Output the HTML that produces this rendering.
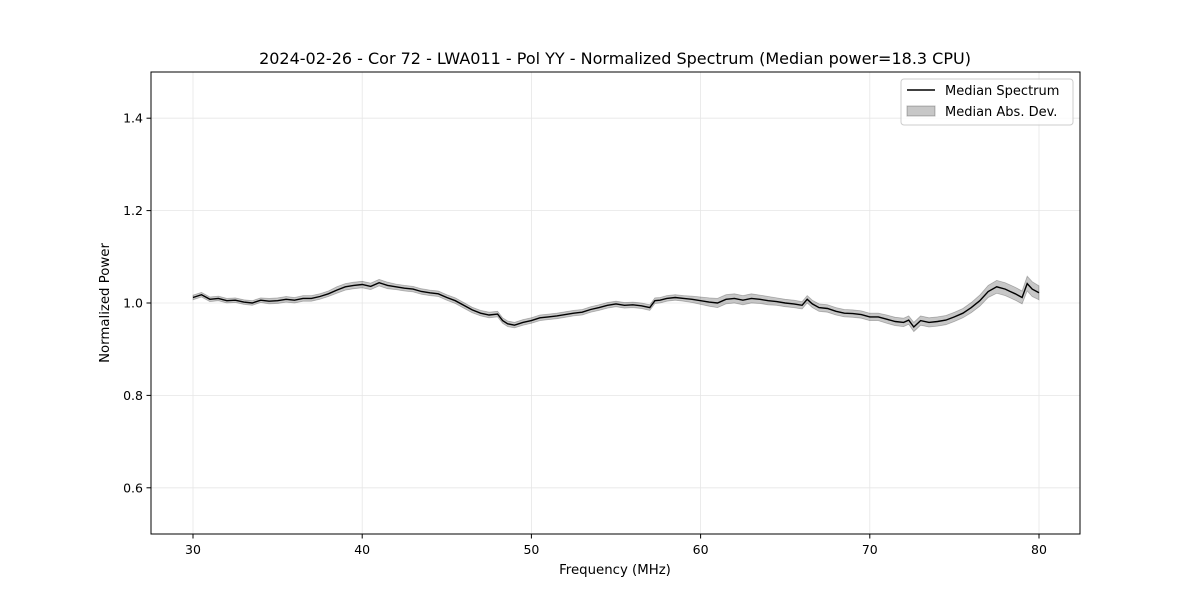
<!DOCTYPE html>
<html><head><meta charset="utf-8"><style>
html,body{margin:0;padding:0;background:#fff}
svg{display:block;font-family:"DejaVu Sans","Liberation Sans",sans-serif}
</style></head><body>
<svg id="chart" width="1200" height="600">
<text x="615" y="64" text-anchor="middle" font-size="16">2024-02-26 - Cor 72 - LWA011 - Pol YY - Normalized Spectrum (Median power=18.3 CPU)</text>
<g id="grid"></g>
<path id="band" fill="#000" fill-opacity="0.22" stroke="#000" stroke-opacity="0.25" stroke-width="0.8"/>
<path id="line" fill="none" stroke="#000" stroke-width="1.4"/>
<rect x="151" y="72" width="929" height="462" fill="none" stroke="#000" stroke-width="1"/>
<g id="ticks"></g>
<text x="615" y="574" text-anchor="middle" font-size="13.3">Frequency (MHz)</text>
<text transform="translate(109,303) rotate(-90)" text-anchor="middle" font-size="13.3">Normalized Power</text>
<g>
<rect x="901" y="79" width="172" height="46" rx="3" fill="#fff" fill-opacity="0.8" stroke="#ccc"/>
<line x1="907" y1="90" x2="935" y2="90" stroke="#000" stroke-width="1.5"/>
<text x="945" y="95" font-size="13">Median Spectrum</text>
<rect x="907" y="106" width="28" height="10" fill="#000" fill-opacity="0.22" stroke="#000" stroke-opacity="0.25"/>
<text x="945" y="116" font-size="13">Median Abs. Dev.</text>
</g>
</svg>
<script>
const freqs=[30,30.5,31,31.5,32,32.5,33,33.5,34,34.5,35,35.5,36,36.5,37,37.5,38,38.5,39,39.5,40,40.5,41,41.5,42,42.5,43,43.5,44,44.5,45,45.5,46,46.5,47,47.5,48,48.3,48.6,49,49.5,50,50.5,51,51.5,52,52.5,53,53.5,54,54.5,55,55.5,56,56.5,57,57.3,57.6,58,58.5,59,59.5,60,60.5,61,61.5,62,62.5,63,63.5,64,64.5,65,65.5,66,66.3,66.6,67,67.5,68,68.5,69,69.5,70,70.5,71,71.5,72,72.3,72.6,73,73.5,74,74.5,75,75.5,76,76.5,77,77.5,78,78.3,78.6,79,79.3,79.6,80];
const median=[1.012,1.018,1.008,1.01,1.005,1.006,1.002,1.0,1.006,1.004,1.005,1.008,1.006,1.01,1.01,1.014,1.02,1.028,1.035,1.038,1.04,1.036,1.044,1.038,1.035,1.032,1.03,1.025,1.022,1.02,1.012,1.005,0.995,0.985,0.978,0.974,0.976,0.962,0.955,0.952,0.958,0.962,0.968,0.97,0.972,0.975,0.978,0.98,0.986,0.99,0.995,0.998,0.995,0.996,0.994,0.99,1.005,1.006,1.01,1.012,1.01,1.008,1.005,1.002,1.0,1.008,1.01,1.006,1.01,1.008,1.005,1.003,1.0,0.998,0.995,1.008,0.998,0.99,0.988,0.982,0.978,0.977,0.975,0.97,0.97,0.965,0.96,0.958,0.963,0.948,0.962,0.958,0.96,0.963,0.97,0.978,0.99,1.005,1.025,1.035,1.03,1.025,1.02,1.012,1.042,1.03,1.022];
const spread=[0.005,0.005,0.005,0.005,0.005,0.005,0.005,0.005,0.005,0.006,0.006,0.006,0.006,0.006,0.006,0.006,0.006,0.007,0.007,0.007,0.007,0.007,0.007,0.007,0.006,0.006,0.006,0.006,0.006,0.006,0.006,0.006,0.006,0.006,0.006,0.006,0.006,0.006,0.006,0.006,0.006,0.006,0.006,0.006,0.006,0.006,0.006,0.006,0.006,0.006,0.006,0.006,0.006,0.006,0.006,0.006,0.006,0.006,0.006,0.006,0.006,0.007,0.008,0.009,0.01,0.01,0.01,0.01,0.01,0.009,0.009,0.008,0.008,0.008,0.008,0.008,0.008,0.008,0.008,0.008,0.008,0.008,0.008,0.008,0.008,0.009,0.009,0.009,0.009,0.01,0.01,0.01,0.01,0.01,0.01,0.01,0.011,0.012,0.013,0.014,0.014,0.014,0.014,0.014,0.016,0.016,0.015];
const xTicks=[30,40,50,60,70,80];
const yTicks=[0.6,0.8,1.0,1.2,1.4];
const X=f=>193+(f-30)*16.92;
const Y=v=>534-(v-0.5)*462;
const ns="http://www.w3.org/2000/svg";
const grid=document.getElementById('grid'),ticks=document.getElementById('ticks');
function mk(tag,attrs,parent){const e=document.createElementNS(ns,tag);for(const k in attrs)e.setAttribute(k,attrs[k]);parent.appendChild(e);return e;}
xTicks.forEach(t=>{
  const g=mk('line',{x1:X(t),x2:X(t),y1:72,y2:534,stroke:'#e6e6e6','stroke-width':0.8},grid);
  
  
  const tk=mk('line',{x1:X(t),x2:X(t),y1:534,y2:538.5,stroke:'#000'},ticks);
  
  
  const tx=mk('text',{x:X(t),y:554,'text-anchor':'middle','font-size':12.5},ticks);
  tx.textContent=t;
  
  
});
yTicks.forEach(t=>{
  const g=mk('line',{x1:151,x2:1080,y1:Y(t),y2:Y(t),stroke:'#e6e6e6','stroke-width':0.8},grid);
  
  
  const tk=mk('line',{x1:146.5,x2:151,y1:Y(t),y2:Y(t),stroke:'#000'},ticks);
  
  
  const tx=mk('text',{x:143,y:Y(t)+4.5,'text-anchor':'end','font-size':12.5},ticks);
  tx.textContent=t.toFixed(1);
  
  
});
let d='',up=[],dn=[];
freqs.forEach((f,i)=>{d+=(i?'L':'M')+X(f).toFixed(1)+','+Y(median[i]).toFixed(1);up.push(X(f).toFixed(1)+','+Y(median[i]+spread[i]).toFixed(1));dn.unshift(X(f).toFixed(1)+','+Y(median[i]-spread[i]).toFixed(1));});
document.getElementById('line').setAttribute('d',d);
document.getElementById('band').setAttribute('d','M'+up.join('L')+'L'+dn.join('L')+'Z');
</script>
</body></html>
